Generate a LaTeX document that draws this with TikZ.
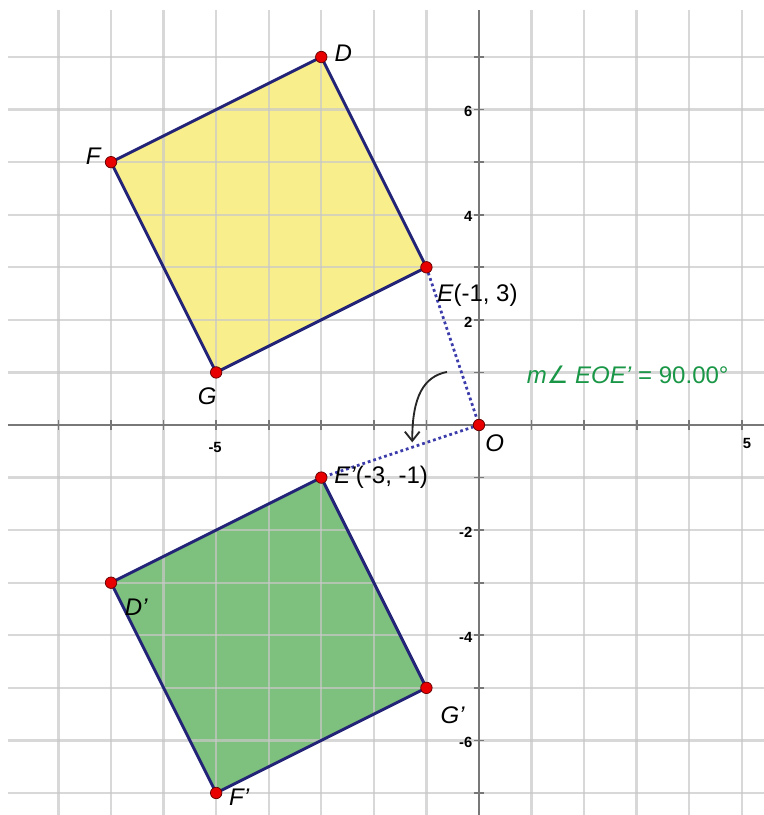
\documentclass[tikz,border=0pt]{standalone}
\usepackage{fontspec}
\setmainfont{Liberation Sans}
\newfontfamily\djv{DejaVu Sans}
\usetikzlibrary{arrows.meta}
\definecolor{gridc}{RGB}{200,200,200}
\definecolor{axisc}{RGB}{120,120,120}
\definecolor{edgec}{RGB}{35,35,120}
\definecolor{yel}{RGB}{249,238,140}
\definecolor{grn}{RGB}{126,192,126}
\definecolor{dotc}{RGB}{60,60,170}
\definecolor{txtg}{RGB}{25,150,70}
\definecolor{ptred}{RGB}{232,0,0}
\begin{document}
\begin{tikzpicture}[x=1cm,y=1cm,
  gridline/.style={draw=gridc,line width=1.3pt,opacity=0.7},
  axisline/.style={draw=axisc,line width=1.1pt},
  edge/.style={draw=edgec,line width=1.6pt,line join=round},
  dotline/.style={draw=dotc,line width=1.5pt,dash pattern=on 1.5pt off 1.6pt},
  pt/.style={circle,fill=ptred,draw=black!60!red,line width=0.4pt,inner sep=0pt,minimum size=6.2pt},
  lbl/.style={font=\fontsize{13}{15}\selectfont,inner sep=0pt},
  tick/.style={font=\bfseries\fontsize{8}{9}\selectfont,inner sep=0pt},
  arr/.style={draw=black!85,line width=1pt,-{Straight Barb[length=5pt,width=8pt]}}]
\useasboundingbox (-9.112,-7.419) rectangle (5.421,8.085);
\fill[white] (-9.112,-7.419) rectangle (5.421,8.085);
% points
\coordinate (D) at (-3,7);
\coordinate (F) at (-7,5);
\coordinate (E) at (-1,3);
\coordinate (G) at (-5,1);
\coordinate (Ep) at (-3,-1);
\coordinate (Dp) at (-7,-3);
\coordinate (Gp) at (-1,-5);
\coordinate (Fp) at (-5,-7);
\coordinate (O) at (0,0);
% fills
\fill[yel] (D) -- (E) -- (G) -- (F) -- cycle;
\fill[grn] (Ep) -- (Gp) -- (Fp) -- (Dp) -- cycle;
% grid
\foreach \x in {-8,...,5} \draw[gridline] (\x,-7.419) -- (\x,7.89);
\foreach \y in {-7,...,7} \draw[gridline] (-8.96,\y) -- (5.421,\y);
% axes
\draw[axisline] (-8.96,0) -- (5.421,0);
\draw[axisline] (0,-7.419) -- (0,7.89);
\foreach \x in {-8,...,5} \draw[axisc,line width=0.9pt] (\x,-0.09) -- (\x,0.09);
\foreach \y in {-7,...,7} \draw[axisc,line width=0.9pt] (-0.09,\y) -- (0.09,\y);
% tick labels
\node[tick] (tx1) at (-5.02,-0.42) {-5};
\node[tick] (tx2) at (5.10,-0.35) {5};
\node[tick,anchor=east] (ty6) at (-0.12,5.96) {6};
\node[tick,anchor=east] (ty4) at (-0.12,3.96) {4};
\node[tick,anchor=east] (ty2) at (-0.12,1.96) {2};
\node[tick,anchor=east] (tym2) at (-0.12,-2.04) {-2};
\node[tick,anchor=east] (tym4) at (-0.12,-4.04) {-4};
\node[tick,anchor=east] (tym6) at (-0.12,-6.04) {-6};
% dotted rotation lines
\draw[dotline] (E) -- (O) -- (Ep);
% edges
\draw[edge] (D) -- (E) -- (G) -- (F) -- cycle;
\draw[edge] (Ep) -- (Gp) -- (Fp) -- (Dp) -- cycle;
% rotation arrow
\coordinate (as) at (-0.61,1.01);
\coordinate (ae) at (-1.27,-0.33);
\draw[arr] (as) .. controls (-1.05,0.92) and (-1.27,0.55) .. (ae);
% point dots
\node[pt] (Dd) at (D) {};
\node[pt] (Fd) at (F) {};
\node[pt] (Ed) at (E) {};
\node[pt] (Gd) at (G) {};
\node[pt] (Epd) at (Ep) {};
\node[pt] (Dpd) at (Dp) {};
\node[pt] (Gpd) at (Gp) {};
\node[pt] (Fpd) at (Fp) {};
\node[pt] (Od) at (O) {};
% labels
\node[lbl] (lD) at (-2.58,7.07) {\textit{D}};
\node[lbl] (lF) at (-7.33,5.12) {\textit{F}};
\node[lbl,anchor=west] (lE) at (-0.80,2.47) {\textit{E}(-1, 3)};
\node[lbl] (lG) at (-5.17,0.55) {\textit{G}};
\node[lbl] (lO) at (0.30,-0.34) {\textit{O}};
\node[lbl,anchor=west] (lEp) at (-2.76,-0.99) {\textit{E’}(-3, -1)};
\node[lbl] (lDp) at (-6.52,-3.46) {\textit{D’}};
\node[lbl] (lGp) at (-0.50,-5.52) {\textit{G’}};
\node[lbl] (lFp) at (-4.56,-7.08) {\textit{F’}};
\node[lbl,text=txtg] (meas) at (2.83,0.95) {\textit{m}{\djv ∠} \textit{EOE’} = 90.00°};
\end{tikzpicture}
\end{document}
